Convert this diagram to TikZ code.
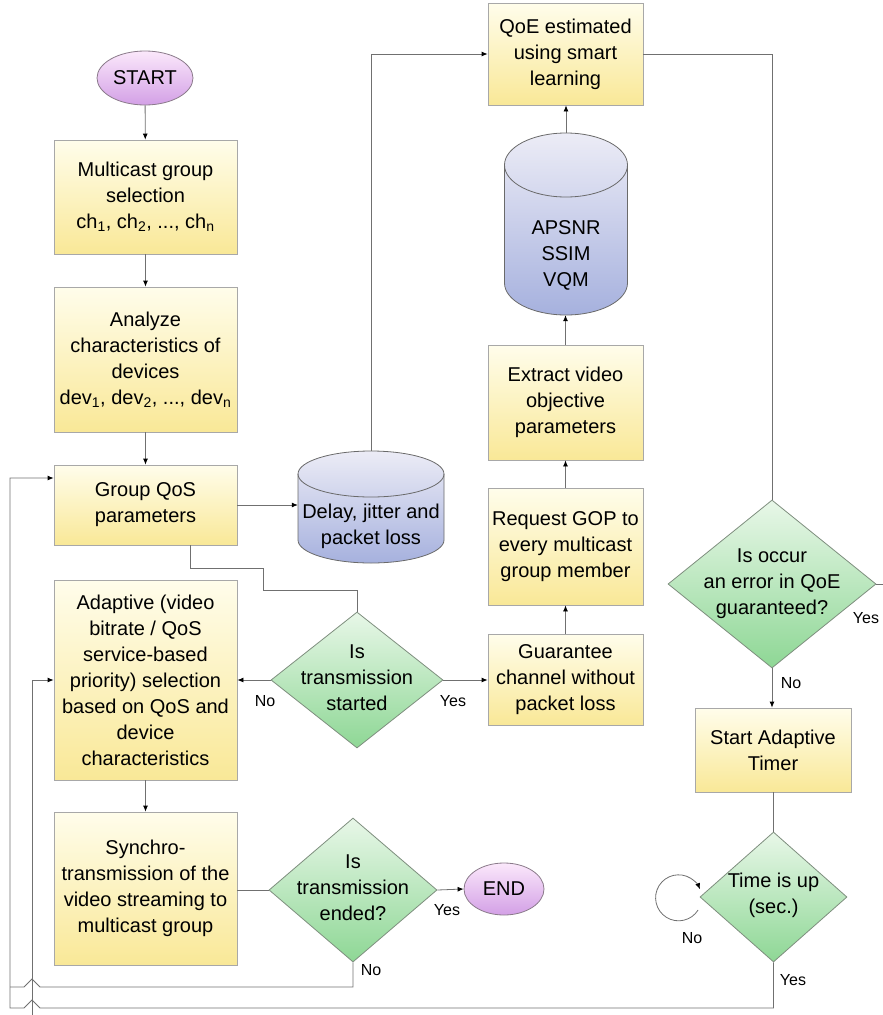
\documentclass[tikz,border=0pt]{standalone}
\usepackage{fontspec}
\setmainfont{Liberation Sans}
\usetikzlibrary{arrows.meta,calc,shapes.geometric}
\definecolor{boxtop}{HTML}{FFFDEB}
\definecolor{boxbot}{HTML}{F9E897}
\definecolor{boxborder}{HTML}{A8A8A8}
\definecolor{diatop}{HTML}{E8F7E8}
\definecolor{diabot}{HTML}{8ED795}
\definecolor{diaborder}{HTML}{7E8E7E}
\definecolor{cyltop}{HTML}{ECECF6}
\definecolor{cylbot}{HTML}{A6B1DE}
\definecolor{cylborder}{HTML}{6A6A6A}
\definecolor{termtop}{HTML}{FBE8FB}
\definecolor{termbot}{HTML}{D3A0E6}
\definecolor{termborder}{HTML}{8A7A8A}
\definecolor{linecol}{HTML}{707070}
\tikzset{
  every node/.style={font=\fontsize{20}{26}\selectfont, align=center, text=black},
  box/.style={rectangle, draw=boxborder, line width=0.8pt, top color=boxtop, bottom color=boxbot, inner sep=0pt},
  dia/.style={diamond, draw=diaborder, line width=0.8pt, top color=diatop, bottom color=diabot, inner sep=0pt},
  term/.style={ellipse, draw=termborder, line width=0.8pt, top color=termtop, bottom color=termbot, inner sep=0pt},
  cylfill/.style={draw=cylborder, line width=0.8pt, top color=cyltop, bottom color=cylbot},
  cylline/.style={draw=cylborder, line width=0.8pt},
  anchorbox/.style={rectangle, inner sep=0pt},
  txt/.style={inner sep=0pt},
  lbl/.style={font=\fontsize{16}{18}\selectfont, inner sep=0pt},
  conn/.style={draw=linecol, line width=0.8pt},
  arr/.style={conn, -{Latex[length=6pt,width=5pt,color=black]}}
}
\begin{document}
\begin{tikzpicture}[x=1pt,y=-1pt]
\useasboundingbox (0,0) rectangle (883,1015);

% ---- left column ----
\node[term, minimum width=96pt, minimum height=54pt] (start) at (145,78) {START};
\node[box, minimum width=183pt, minimum height=114pt] (b1) at (145.5,197) {Multicast group\\selection\\ch\textsubscript{1}, ch\textsubscript{2}, ..., ch\textsubscript{n}};
\node[box, minimum width=183pt, minimum height=145pt] (b2) at (145.5,359.5) {Analyze\\characteristics of\\devices\\dev\textsubscript{1}, dev\textsubscript{2}, ..., dev\textsubscript{n}};
\node[box, minimum width=183pt, minimum height=80pt] (b3) at (145.5,505) {Group QoS\\parameters};
\node[box, minimum width=183pt, minimum height=200pt] (b4) at (145.5,680) {Adaptive (video\\bitrate / QoS\\service-based\\priority) selection\\based on QoS and\\device\\characteristics};
\node[box, minimum width=183pt, minimum height=153pt] (b5) at (145.5,888.5) {Synchro-\\transmission of the\\video streaming to\\multicast group};

% ---- diamonds middle ----
\node[dia, minimum width=172pt, minimum height=136pt] (d1) at (357,680) {};
\node[txt] at (357,678) {Is\\transmission\\started};
\node[dia, minimum width=168pt, minimum height=144pt] (d2) at (353,890) {};
\node[txt] at (353,888) {Is\\transmission\\ended?};
\node[term, minimum width=80pt, minimum height=52pt] (end) at (504,889) {END};

% ---- cylinder 1 ----
\node[anchorbox, minimum width=146pt, minimum height=112pt] (db1) at (371,507) {};
\path[cylfill] (298,474) -- (298,540) arc[start angle=180,end angle=0,x radius=73,y radius=23]
  -- (444,474) arc[start angle=0,end angle=-180,x radius=73,y radius=23] -- cycle;
\draw[cylline] (298,474) arc[start angle=180,end angle=0,x radius=73,y radius=23];
\node[txt] at (371,526) {Delay, jitter and\\packet loss};

% ---- right-middle column ----
\node[box, minimum width=155pt, minimum height=102pt] (qoe) at (565.5,54) {QoE estimated\\using smart\\learning};
\node[anchorbox, minimum width=123pt, minimum height=182pt] (db2) at (566,224) {};
\path[cylfill] (504.5,165) -- (504.5,283) arc[start angle=180,end angle=0,x radius=61.5,y radius=32]
  -- (627.5,165) arc[start angle=0,end angle=-180,x radius=61.5,y radius=32] -- cycle;
\draw[cylline] (504.5,165) arc[start angle=180,end angle=0,x radius=61.5,y radius=32];
\node[txt] at (566,255) {APSNR\\SSIM\\VQM};
\node[box, minimum width=155pt, minimum height=115pt] (ext) at (565.5,402.5) {Extract video\\objective\\parameters};
\node[box, minimum width=155pt, minimum height=117pt] (req) at (565.5,546.5) {Request GOP to\\every multicast\\group member};
\node[box, minimum width=155pt, minimum height=91pt] (guar) at (565.5,679.5) {Guarantee\\channel without\\packet loss};

% ---- right column ----
\node[dia, minimum width=208pt, minimum height=168pt] (err) at (772,584) {};
\node[txt] at (772,584) {Is occur\\an error in QoE\\guaranteed?};
\node[box, minimum width=156pt, minimum height=84pt] (timer) at (773,750) {Start Adaptive\\Timer};
\node[dia, minimum width=147pt, minimum height=130pt] (tup) at (773.5,897) {};
\node[txt] at (773.5,895) {Time is up\\(sec.)};

\coordinate (errout) at (883,584);
\coordinate (bot) at (32,1015);

% ---- connectors ----
\draw[arr] (start) -- (b1);
\draw[arr] (b1) -- (b2);
\draw[arr] (b2) -- (b3);
\draw[arr] (b4) -- (b5);
\draw[arr] (b3.east |- 0,505) -- (db1.west |- 0,505);
\draw[conn] ($(b3.south)+(44.5,0)$) |- (263,568) |- (357,590) -- (d1.north);
\draw[arr] (d1.west) -- (b4.east |- d1.west);
\draw[arr] (d1.east) -- (guar.west |- d1.east);
\draw[arr] (guar.north) -- (guar.north |- req.south);
\draw[arr] (req.north) -- (req.north |- ext.south);
\draw[arr] (ext.north) -- (ext.north |- db2.south);
\draw[arr] (db2.north) -- (db2.north |- qoe.south);
\draw[arr] (db1.north) |- (qoe.west);
\draw[conn] (qoe.east) -| (err.north);
\draw[conn] (err.east) -- (errout);
\draw[arr] (err.south) -- (err.south |- timer.north);
\draw[conn] (timer.south -| tup.north) -- (tup.north);
\draw[arr] ($(tup.west)+(-1.5,13)$) arc[start angle=32,end angle=338,radius=23];
\draw[conn] (d2.west) -- (b5.east |- d2.west);
\draw[arr] (d2.east) -- (end.west);
\draw[conn] (d2.south) |- (40,987) -- (32,979) -- (24,987) -- (10,987);
\draw[arr] (tup.south) |- (40,1008) -- (32,1000) -- (24,1008) -| (10,478) -- (b3.west |- 0,478);
\draw[arr] (bot) -- (32,680) -- (b4.west |- 0,680);

% ---- labels ----
\node[lbl] at (265,701) {No};
\node[lbl] at (453,701) {Yes};
\node[lbl] at (447,910) {Yes};
\node[lbl] at (371,970) {No};
\node[lbl] at (866,618) {Yes};
\node[lbl] at (791,683) {No};
\node[lbl] at (692,938) {No};
\node[lbl] at (793,980) {Yes};
\end{tikzpicture}
\end{document}
